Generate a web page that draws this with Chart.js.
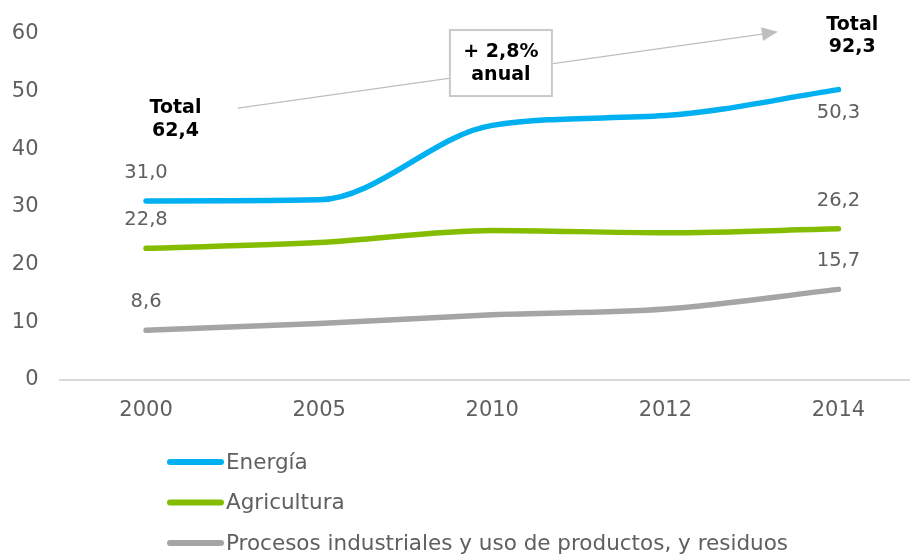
<!DOCTYPE html>
<html>
<head>
<meta charset="utf-8">
<script src="https://cdn.jsdelivr.net/npm/chart.js@4/dist/chart.umd.min.js"></script>
<style>
  html, body { margin: 0; padding: 0; background: #fff; overflow: hidden; }
  #wrap { width: 925px; height: 556px; }
</style>
</head>
<body>
<div id="wrap"><canvas id="chart"></canvas></div>
<script>
var years = ["2000", "2005", "2010", "2012", "2014"];
var energia = [31.0, 31.2, 44.1, 45.8, 50.3];
var agricultura = [22.8, 23.8, 25.9, 25.5, 26.2];
var procesos = [8.6, 9.8, 11.3, 12.3, 15.7];
var seriesNames = ["Energía", "Agricultura", "Procesos industriales y uso de productos, y residuos"];
var totals = ["62,4", "92,3"];
var growth = ["+ 2,8%", "anual"];
var yTicks = [0, 10, 20, 30, 40, 50, 60];

var FONT = "DejaVu Sans";
var grey = "#5f5f5f";

function fmt(v) {
  return v.toFixed(1).replace(".", ",");
}

// value labels on the first and last point of each line
var pointLabels = {
  id: "pointLabels",
  afterDatasetsDraw: function(chart) {
    var ctx = chart.ctx;
    ctx.save();
    ctx.font = "19.5px " + FONT;
    ctx.fillStyle = grey;
    ctx.textAlign = "center";
    ctx.textBaseline = "middle";
    chart.data.datasets.forEach(function(ds, i) {
      var meta = chart.getDatasetMeta(i);
      [0, ds.data.length - 1].forEach(function(j) {
        var pt = meta.data[j];
        var below = ds.labelBelow && ds.labelBelow[j];
        ctx.fillText(fmt(ds.data[j]), pt.x, below ? pt.y + 23 : pt.y - 28);
      });
    });
    ctx.restore();
  }
};

// totals, growth box and the arrow between them
var notes = {
  id: "notes",
  afterDraw: function(chart) {
    var ctx = chart.ctx, x = chart.scales.x, y = chart.scales.y;
    ctx.save();

    // arrow
    var x0 = x.getPixelForValue(0.53), y0 = y.getPixelForValue(47.1);
    var x1 = x.getPixelForValue(3.65), y1 = y.getPixelForValue(60.3);
    var ang = Math.atan2(y1 - y0, x1 - x0);
    ctx.strokeStyle = "#bfbfbf";
    ctx.lineWidth = 1.2;
    ctx.beginPath();
    ctx.moveTo(x0, y0);
    ctx.lineTo(x1 - 14 * Math.cos(ang), y1 - 14 * Math.sin(ang));
    ctx.stroke();
    ctx.fillStyle = "#bfbfbf";
    ctx.beginPath();
    ctx.moveTo(x1, y1);
    ctx.lineTo(x1 - 16 * Math.cos(ang) + 7 * Math.sin(ang), y1 - 16 * Math.sin(ang) - 7 * Math.cos(ang));
    ctx.lineTo(x1 - 16 * Math.cos(ang) - 7 * Math.sin(ang), y1 - 16 * Math.sin(ang) + 7 * Math.cos(ang));
    ctx.closePath();
    ctx.fill();

    // growth box
    var bx = x.getPixelForValue(2.05), by = y.getPixelForValue(54.9);
    ctx.fillStyle = "#fff";
    ctx.fillRect(bx - 51, by - 33, 102, 66);
    ctx.strokeStyle = "#c9c9c9";
    ctx.lineWidth = 2;
    ctx.strokeRect(bx - 51, by - 33, 102, 66);

    ctx.fillStyle = "#000";
    ctx.font = "bold 19px " + FONT;
    ctx.textAlign = "center";
    ctx.textBaseline = "middle";
    ctx.fillText(growth[0], bx, by - 11);
    ctx.fillText(growth[1], bx, by + 12);

    // totals
    var t0x = x.getPixelForValue(0.17), t0y = y.getPixelForValue(45.2);
    ctx.fillText("Total", t0x, t0y - 11);
    ctx.fillText(totals[0], t0x, t0y + 12);
    var t1x = x.getPixelForValue(4.08), t1y = y.getPixelForValue(59.6);
    ctx.fillText("Total", t1x, t1y - 11);
    ctx.fillText(totals[1], t1x, t1y + 11);
    ctx.restore();
  }
};

// stacked legend below the axis
var stackLegend = {
  id: "stackLegend",
  afterDraw: function(chart) {
    var ctx = chart.ctx, area = chart.chartArea;
    ctx.save();
    ctx.font = "21.5px " + FONT;
    ctx.textBaseline = "middle";
    ctx.textAlign = "left";
    chart.data.datasets.forEach(function(ds, i) {
      var ly = area.bottom + 82 + i * 40.5;
      ctx.strokeStyle = ds.borderColor;
      ctx.lineWidth = 6;
      ctx.lineCap = "round";
      ctx.beginPath();
      ctx.moveTo(170, ly);
      ctx.lineTo(221, ly);
      ctx.stroke();
      ctx.fillStyle = grey;
      ctx.fillText(ds.label, 226, ly + 1);
    });
    ctx.restore();
  }
};

function line(label, data, color, labelBelow) {
  return {
    label: label,
    data: data,
    borderColor: color,
    backgroundColor: color,
    borderWidth: 5.5,
    borderCapStyle: "round",
    borderJoinStyle: "round",
    pointRadius: 0,
    cubicInterpolationMode: "monotone",
    labelBelow: labelBelow
  };
}

new Chart(document.getElementById("chart"), {
  type: "line",
  data: {
    labels: years,
    datasets: [
      line(seriesNames[0], energia, "#00b0f0", [false, false, false, false, true]),
      line(seriesNames[1], agricultura, "#84bd00"),
      line(seriesNames[2], procesos, "#a5a5a5")
    ]
  },
  options: {
    responsive: true,
    maintainAspectRatio: false,
    animation: false,
    layout: { padding: { top: 30, left: 0, right: 0, bottom: 0 } },
    plugins: { legend: { display: false }, tooltip: { enabled: false } },
    scales: {
      x: {
        offset: true,
        grid: { display: false, drawTicks: false },
        border: { display: true, color: "#d9d9d9", width: 2 },
        ticks: { color: grey, font: { family: FONT, size: 21 }, padding: 18 },
        afterFit: function(s) { s.height = 176; }
      },
      y: {
        min: 0,
        max: 60,
        afterBuildTicks: function(s) { s.ticks = yTicks.map(function(v) { return { value: v }; }); },
        grid: { display: false, drawTicks: false },
        border: { display: false },
        ticks: { color: grey, font: { family: FONT, size: 21 }, padding: 21 },
        afterFit: function(s) { s.width = 59.5; }
      }
    }
  },
  plugins: [pointLabels, notes, stackLegend]
});
</script>
</body>
</html>
